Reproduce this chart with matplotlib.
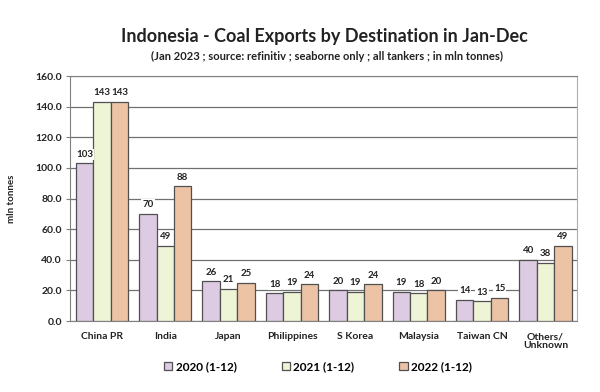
import numpy as np
import matplotlib.pyplot as plt

plt.rcParams['font.family'] = ['Lato', 'DejaVu Sans']

# data
destinations = ['China PR', 'India', 'Japan', 'Philippines', 'S Korea',
                'Malaysia', 'Taiwan CN', 'Others/\nUnknown']
exports_2020 = [103, 70, 26, 18, 20, 19, 14, 40]
exports_2021 = [143, 49, 21, 19, 19, 18, 13, 38]
exports_2022 = [143, 88, 25, 24, 24, 20, 15, 49]
series_labels = ['2020 (1-12)', '2021 (1-12)', '2022 (1-12)']
colors = ['#dccbe2', '#eef4d6', '#ecc3a5']

fig = plt.figure(figsize=(6, 3.92), dpi=100)
ax = fig.add_axes([0.117, 0.181, 0.845, 0.625])

x = np.arange(len(destinations))
width = 0.275
for i, (vals, lab, col) in enumerate(zip([exports_2020, exports_2021, exports_2022],
                                          series_labels, colors)):
    bars = ax.bar(x + (i - 1) * width, vals, width, color=col, edgecolor='#505050',
                  linewidth=0.9, label=lab, zorder=3)
    for b, v in zip(bars, vals):
        ax.text(b.get_x() + b.get_width() / 2, v + 3, f'{v}', ha='center', va='bottom',
                fontsize=7, fontweight='bold', color='#222222', zorder=4,
                bbox=dict(facecolor='white', edgecolor='none', pad=0.8))

ax.set_xlim(-0.5, len(destinations) - 0.5)
ax.set_ylim(0, 160)
ax.set_yticks(np.arange(0, 161, 20))
ax.set_yticklabels([f'{t:.1f}' for t in np.arange(0, 161, 20)], fontsize=7.5,
                   fontweight='bold', color='#222222')
ax.set_xticks(x)
ax.set_xticklabels(destinations, fontsize=7.5, fontweight='bold', color='#222222',
                   linespacing=1.0)
ax.tick_params(axis='x', length=0, pad=8)
ax.tick_params(axis='y', length=3, color='#808080', pad=3)
ax.grid(axis='y', color='#707070', linewidth=0.9, zorder=0)
for s in ['left', 'top', 'bottom']:
    ax.spines[s].set_color('#808080')
ax.spines['right'].set_color('#b0b0b0')
ax.set_ylabel('mln tonnes', fontsize=7, fontweight='bold', color='#222222', labelpad=14)

fig.text(0.54, 0.906, 'Indonesia - Coal Exports by Destination in Jan-Dec',
         ha='center', va='center', fontsize=13, fontweight='bold', color='#222222')
fig.text(0.545, 0.855, '(Jan 2023 ; source: refinitiv ; seaborne only ; all tankers ; in mln tonnes)',
         ha='center', va='center', fontsize=8, fontweight='bold', color='#222222')

fig.legend(loc='center', bbox_to_anchor=(0.53, 0.064), ncol=3, frameon=False,
           prop={'weight': 'bold', 'size': 8.5}, handlelength=0.7,
           handleheight=0.7, columnspacing=3.8, handletextpad=0.3)

fig.savefig('out.png', dpi=100)
